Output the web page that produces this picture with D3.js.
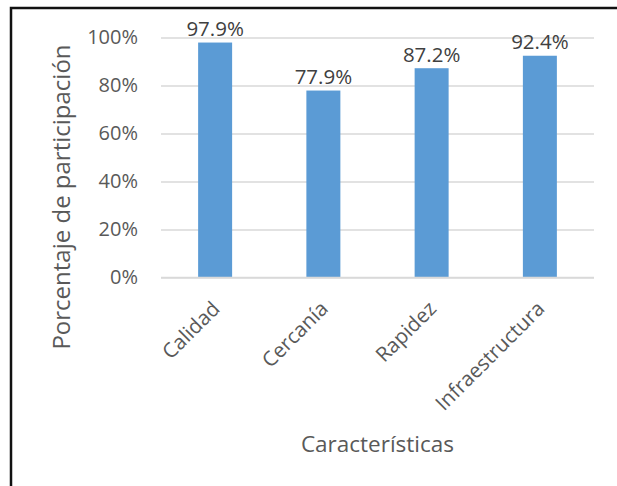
<!DOCTYPE html>
<html>
<head>
<meta charset="utf-8">
<script src="https://cdn.jsdelivr.net/npm/d3@7/dist/d3.min.js"></script>
<style>
  html, body { margin: 0; padding: 0; background: #fff; }
  svg { display: block; font-family: "Open Sans", sans-serif; }
</style>
</head>
<body>
<svg id="chart" width="617" height="486"></svg>
<script>
// Participation share by characteristic
const categories = ["Calidad", "Cercanía", "Rapidez", "Infraestructura"];
const values = [0.979, 0.779, 0.872, 0.924];
const yTicks = [0, 0.2, 0.4, 0.6, 0.8, 1.0];
const yTitle = "Porcentaje de participación";
const xTitle = "Características";

const svg = d3.select("#chart");
const W = 617, H = 486;
const plot = { left: 161, right: 594, top: 37.5, bottom: 277.5 };

// Frame (top and left edges visible)
svg.append("rect")
  .attr("x", 11).attr("y", 8)
  .attr("width", W).attr("height", H)
  .attr("fill", "none")
  .attr("stroke", "#111")
  .attr("stroke-width", 2.5);

const x = d3.scaleBand()
  .domain(categories)
  .range([plot.left, plot.right])
  .paddingInner(0.686)
  .paddingOuter(0.343);

const y = d3.scaleLinear()
  .domain([0, 1])
  .range([plot.bottom, plot.top]);

// Gridlines and y tick labels
const yAxis = d3.axisLeft(y)
  .tickValues(yTicks)
  .tickFormat(d3.format(".0%"))
  .tickSize(-(plot.right - plot.left))
  .tickPadding(23);

const gy = svg.append("g")
  .attr("transform", `translate(${plot.left},0)`)
  .call(yAxis);
gy.select(".domain").remove();
gy.selectAll(".tick line")
  .attr("stroke", "#d9d9d9")
  .attr("stroke-width", 1.5);
gy.selectAll(".tick text")
  .attr("fill", "#595959")
  .attr("font-size", 20)
  .attr("font-family", "Open Sans, sans-serif");

// Bars
svg.append("g").selectAll("rect")
  .data(categories)
  .join("rect")
  .attr("x", d => x(d))
  .attr("width", x.bandwidth())
  .attr("y", (d, i) => y(values[i]))
  .attr("height", (d, i) => y(0) - y(values[i]))
  .attr("fill", "#5b9bd5");

// Baseline axis
svg.append("line")
  .attr("x1", plot.left).attr("x2", plot.right)
  .attr("y1", y(0)).attr("y2", y(0))
  .attr("stroke", "#d9d9d9")
  .attr("stroke-width", 1.5);

// Value labels
svg.append("g").selectAll("text")
  .data(categories)
  .join("text")
  .attr("x", d => x(d) + x.bandwidth() / 2)
  .attr("y", (d, i) => y(values[i]) - 6.5)
  .attr("text-anchor", "middle")
  .attr("font-size", 20.5)
  .attr("fill", "#404040")
  .text((d, i) => d3.format(".1%")(values[i]));

// Category labels, rotated
svg.append("g").selectAll("text")
  .data(categories)
  .join("text")
  .attr("transform", d => `translate(${x(d) + x.bandwidth() / 2 + 6},310) rotate(-45)`)
  .attr("text-anchor", "end")
  .attr("font-size", 20.5)
  .attr("fill", "#595959")
  .text(d => d);

// Axis titles
svg.append("text")
  .attr("transform", "translate(70,197) rotate(-90)")
  .attr("text-anchor", "middle")
  .attr("font-size", 24)
  .attr("fill", "#595959")
  .text(yTitle);

svg.append("text")
  .attr("x", (plot.left + plot.right) / 2)
  .attr("y", 452)
  .attr("text-anchor", "middle")
  .attr("font-size", 22.5)
  .attr("fill", "#595959")
  .text(xTitle);
</script>
</body>
</html>
